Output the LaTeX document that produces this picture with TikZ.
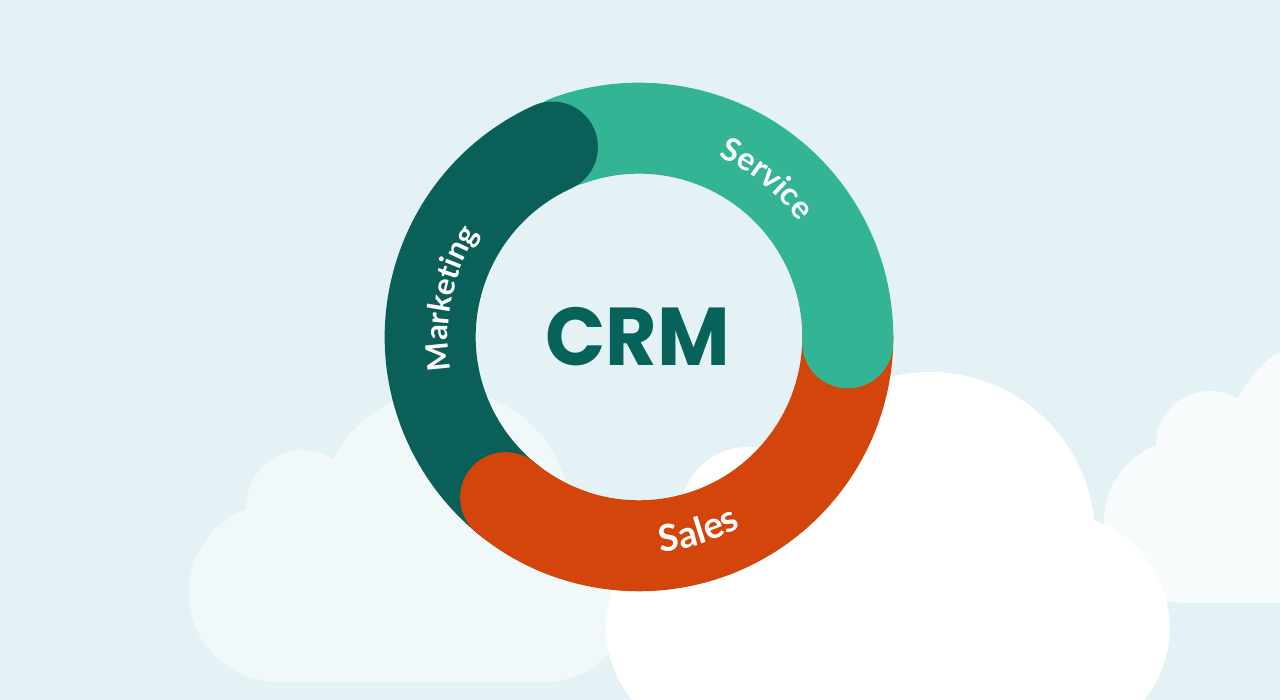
\documentclass[tikz,border=0pt]{standalone}
\usepackage{fontspec}
\usetikzlibrary{decorations.text}
\newfontfamily\crmfont{Poppins}
\newfontfamily\labelfont{Lato}[Scale=1]
\definecolor{mbackground}{HTML}{E4F1F5}
\definecolor{mcloudleft}{HTML}{F0F8FA}
\definecolor{mcloudright}{HTML}{F7FBFC}
\definecolor{mmarketing}{HTML}{0A5F58}
\definecolor{mservice}{HTML}{33B595}
\definecolor{msales}{HTML}{D4450C}
\definecolor{mcrm}{HTML}{05635B}
\tikzset{band/.style = {line width = 91, line cap = round}}
\tikzset{bandlabel/.style 2 args = {decoration={text along path, text align=center,
                                                text format delimiters={|}{|},
                                                text={|\labelfont\bfseries\fontsize{#1}{#1}\selectfont\color{white}|#2}},
                                    decorate}}
\begin{document}
\begin{tikzpicture}[x=1pt, y=1pt]
    \path [use as bounding box, clip] (0, 0) rectangle (1280, 700);
    \fill [mbackground] (0, 0) rectangle (1280, 700);

    \begin{scope}[fill=mcloudleft]
      \fill (278, 107.3) circle [radius=89.3];
      \fill (302, 194) circle [radius=56];
      \fill (445, 185) circle [radius=125];
      \fill (545, 105) circle [radius=87];
      \fill (278, 18) rectangle (545, 185);
    \end{scope}

    \begin{scope}[fill=mcloudright]
      \fill (1185.6, 178.6) circle [radius=81.6];
      \fill (1210, 255) circle [radius=54];
      \fill (1349, 245) circle [radius=125];
      \fill (1186, 97) rectangle (1349, 245);
    \end{scope}

    \begin{scope}[fill=white]
      \fill (930, 163) circle [radius=165];
      \fill (748, 185) circle [radius=68];
      \fill (717, 72) circle [radius=111];
      \fill (1055, 72) circle [radius=114.7];
      \fill (717, -42) rectangle (1055, 163);
    \end{scope}

    \coordinate (ring) at (639, 363);

    \draw [band, msales] (ring) +(230.3:208.8) arc [start angle=230.3, end angle=360, radius=208.8];
    \draw [band, mservice] (ring) +(110:208.8) arc [start angle=110, end angle=-1.6, radius=208.8];
    \draw [band, mmarketing] (ring) +(114.5:208.8) arc [start angle=114.5, end angle=232, radius=208.8];
    \draw [band, msales] (ring) +(230.3:208.8) arc [start angle=230.3, end angle=250, radius=208.8];

    \node (crm) at (637.5, 363) [xscale=0.965, text=mcrm, font=\crmfont\bfseries\fontsize{82}{82}\selectfont] {CRM};

    \path [bandlabel={32}{Service}] (ring) +(79:197) arc [start angle=79, end angle=23, radius=197];
    \path [bandlabel={37}{Sales}] (ring) +(-103:216) arc [start angle=-103, end angle=-43, radius=216];
    \path [bandlabel={31}{Marketing}] (ring) +(214.5:191) arc [start angle=214.5, end angle=122.5, radius=191];
\end{tikzpicture}
\end{document}
